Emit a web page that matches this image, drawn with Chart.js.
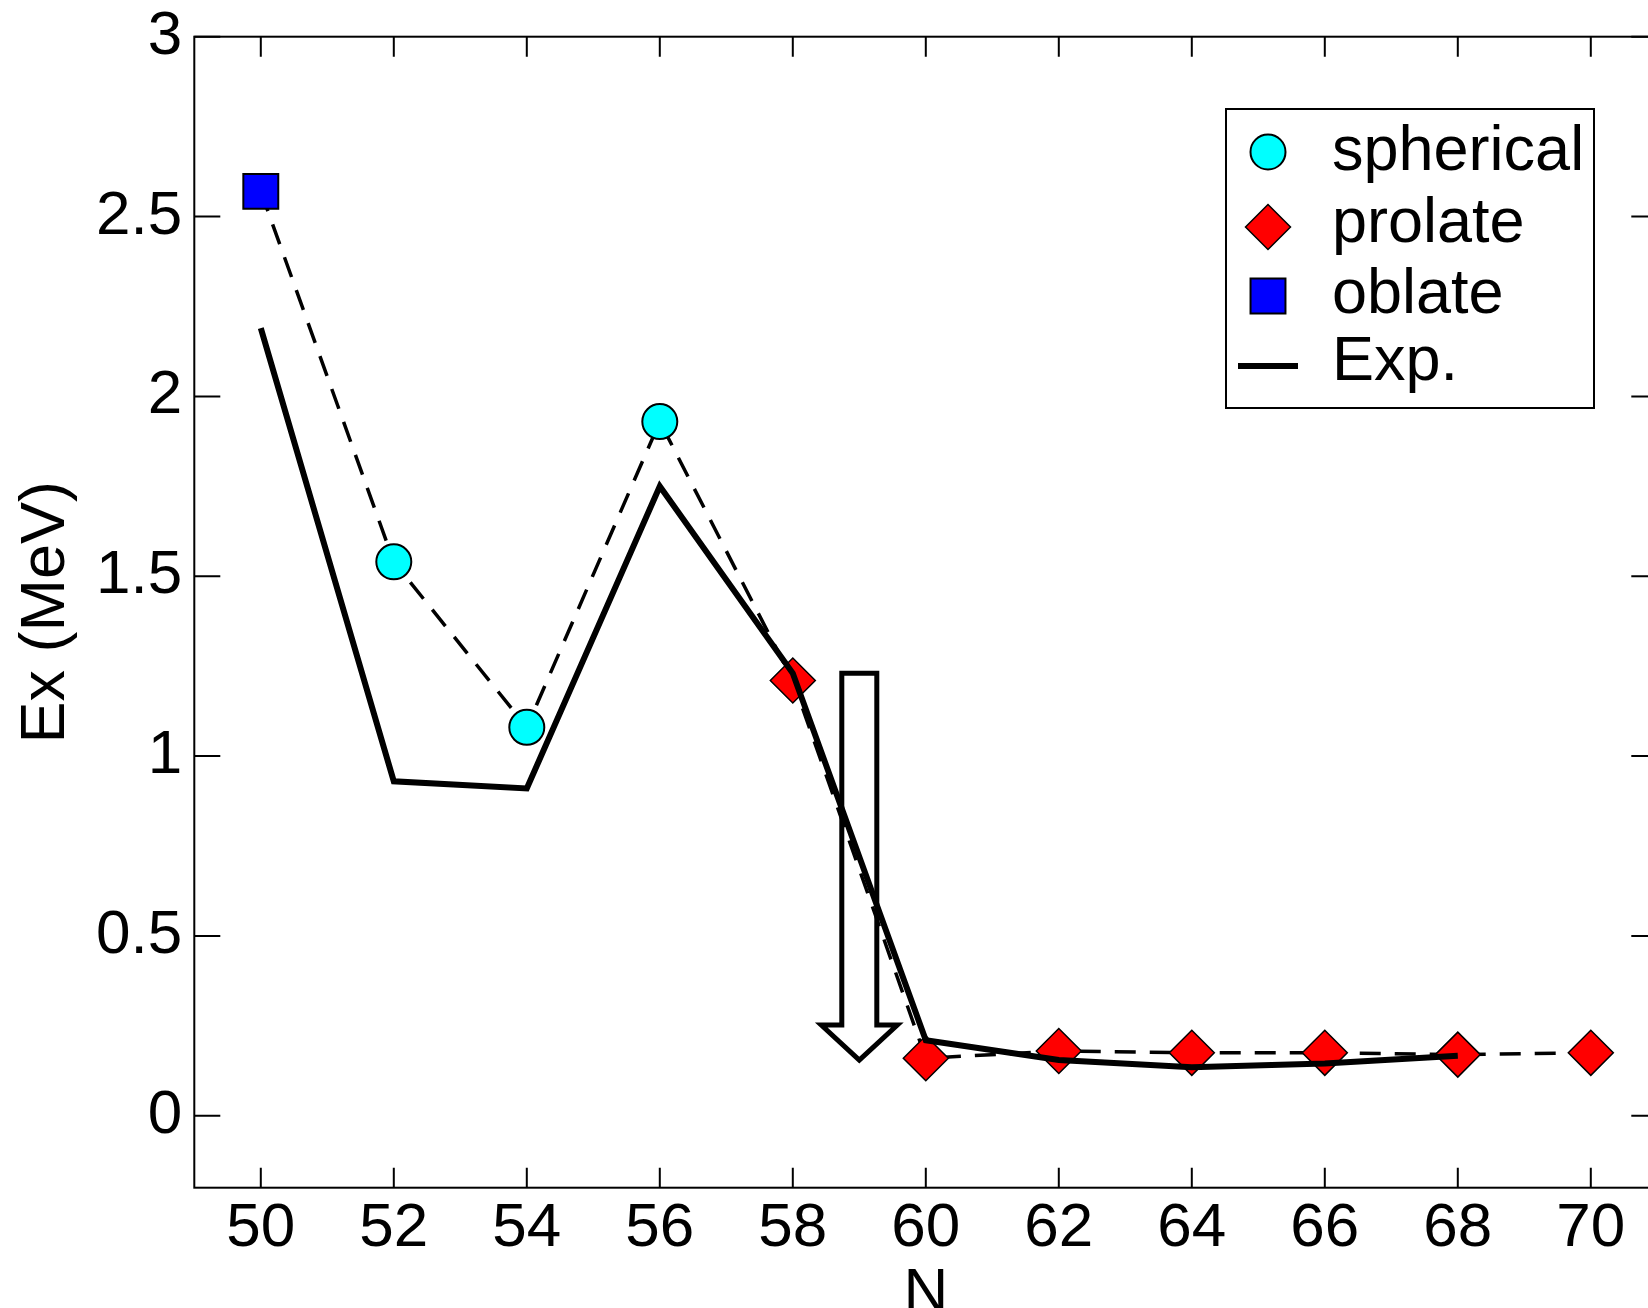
<!DOCTYPE html>
<html>
<head>
<meta charset="utf-8">
<title>Ex vs N</title>
<script src="https://cdn.jsdelivr.net/npm/chart.js@4.4.0/dist/chart.umd.min.js"></script>
<style>
    html, body { margin: 0; padding: 0; background: #fff; overflow: hidden; }
    #wrap { width: 1648px; height: 1308px; overflow: hidden; }
    canvas { display: block; }
</style>
</head>
<body>
<div id="wrap"><canvas id="ex-chart" width="1700" height="1308"></canvas></div>
<script>
// shape-model energies, one array per deformation
const sphericalN = [52, 54, 56];
const sphericalEx = [1.54, 1.08, 1.93];
const prolateN = [58, 60, 62, 64, 66, 68, 70];
const prolateEx = [1.21, 0.16, 0.18, 0.175, 0.175, 0.17, 0.175];
const oblateN = [50];
const oblateEx = [2.57];

// experimental values
const expN = [50, 52, 54, 56, 58, 60, 62, 64, 66, 68];
const expEx = [2.19, 0.93, 0.91, 1.75, 1.23, 0.21, 0.155, 0.135, 0.145, 0.167];

const xTicks = [50, 52, 54, 56, 58, 60, 62, 64, 66, 68, 70];
const yTicks = [0, 0.5, 1, 1.5, 2, 2.5, 3];

// arrow marking the transition
const arrowN = 59;
const arrowFrom = 1.23;
const arrowTo = 0.155;

const FONT = "'Liberation Sans', Arial, Helvetica, sans-serif";

function toPoints(xs, ys) {
    return xs.map((x, i) => ({ x: x, y: ys[i] }));
}

// dashed theory line runs through every model point, sorted by N
const theoryPoints = toPoints(sphericalN, sphericalEx)
    .concat(toPoints(prolateN, prolateEx), toPoints(oblateN, oblateEx))
    .sort((a, b) => a.x - b.x);

const framePlugin = {
    id: 'frame',
    beforeDatasetsDraw(chart) {
        const { ctx, chartArea: a, scales: { x, y } } = chart;
        ctx.save();
        ctx.strokeStyle = '#000';
        ctx.lineWidth = 2;
        ctx.strokeRect(a.left, a.top, a.right - a.left, a.bottom - a.top);
        ctx.beginPath();
        xTicks.forEach(v => {
            const px = x.getPixelForValue(v);
            ctx.moveTo(px, a.bottom); ctx.lineTo(px, a.bottom - 20);
            ctx.moveTo(px, a.top); ctx.lineTo(px, a.top + 20);
        });
        yTicks.forEach(v => {
            const py = y.getPixelForValue(v);
            ctx.moveTo(a.left, py); ctx.lineTo(a.left + 26, py);
            ctx.moveTo(a.right, py); ctx.lineTo(a.right - 26, py);
        });
        ctx.stroke();

        // hollow arrow
        const cx = x.getPixelForValue(arrowN);
        const top = y.getPixelForValue(arrowFrom);
        const tip = y.getPixelForValue(arrowTo);
        const base = tip - 35;
        ctx.lineWidth = 5;
        ctx.lineJoin = 'miter';
        ctx.beginPath();
        ctx.moveTo(cx - 17.5, top);
        ctx.lineTo(cx + 17.5, top);
        ctx.lineTo(cx + 17.5, base);
        ctx.lineTo(cx + 38, base);
        ctx.lineTo(cx, tip);
        ctx.lineTo(cx - 38, base);
        ctx.lineTo(cx - 17.5, base);
        ctx.closePath();
        ctx.stroke();
        ctx.restore();
    }
};

const legendPlugin = {
    id: 'boxLegend',
    afterDraw(chart) {
        const ctx = chart.ctx;
        const box = { left: 1226, top: 109, right: 1594, bottom: 408 };
        ctx.save();
        ctx.fillStyle = '#fff';
        ctx.fillRect(box.left, box.top, box.right - box.left, box.bottom - box.top);
        ctx.strokeStyle = '#000';
        ctx.lineWidth = 2;
        ctx.strokeRect(box.left, box.top, box.right - box.left, box.bottom - box.top);

        const order = ['spherical', 'prolate', 'oblate', 'Exp.'];
        const rows = [152, 227, 296, 366];
        const baselines = [170, 242, 313, 380];
        ctx.font = '63px ' + FONT;
        ctx.textAlign = 'left';
        ctx.textBaseline = 'alphabetic';
        order.forEach((label, i) => {
            const ds = chart.data.datasets.find(d => d.label === label);
            const rowY = rows[i];
            const symX = 1268;
            if (ds.pointRadius > 0) {
                ctx.fillStyle = ds.backgroundColor;
                ctx.strokeStyle = ds.borderColor;
                ctx.lineWidth = ds.pointBorderWidth;
                Chart.helpers.drawPoint(ctx, {
                    pointStyle: ds.pointStyle,
                    radius: ds.pointRadius,
                    rotation: 0,
                    borderWidth: ds.pointBorderWidth
                }, symX, rowY);
            } else {
                ctx.strokeStyle = ds.borderColor;
                ctx.lineWidth = ds.borderWidth;
                ctx.beginPath();
                ctx.moveTo(1238, rowY);
                ctx.lineTo(1298, rowY);
                ctx.stroke();
            }
            ctx.fillStyle = '#000';
            ctx.fillText(label, 1332, baselines[i]);
        });
        ctx.restore();
    }
};

const ctx = document.getElementById('ex-chart').getContext('2d');
const exChart = new Chart(ctx, {
    type: 'scatter',
    data: {
        datasets: [
            {
                label: 'Exp.',
                data: toPoints(expN, expEx),
                showLine: true,
                borderColor: '#000',
                backgroundColor: '#000',
                borderWidth: 6,
                borderJoinStyle: 'miter',
                pointRadius: 0,
                order: 0
            },
            {
                label: 'spherical',
                data: toPoints(sphericalN, sphericalEx),
                pointStyle: 'circle',
                pointRadius: 17.5,
                backgroundColor: '#00ffff',
                borderColor: '#000',
                pointBorderWidth: 2,
                order: 1
            },
            {
                label: 'prolate',
                data: toPoints(prolateN, prolateEx),
                pointStyle: 'rectRot',
                pointRadius: 22.5,
                backgroundColor: '#ff0000',
                borderColor: '#000',
                pointBorderWidth: 1.5,
                order: 1
            },
            {
                label: 'oblate',
                data: toPoints(oblateN, oblateEx),
                pointStyle: 'rect',
                pointRadius: 24.7,
                backgroundColor: '#0000ff',
                borderColor: '#000',
                pointBorderWidth: 2,
                order: 1
            },
            {
                label: 'theory',
                data: theoryPoints,
                showLine: true,
                borderColor: '#000',
                borderWidth: 3.5,
                borderDash: [21, 14],
                pointRadius: 0,
                order: 2
            }
        ]
    },
    options: {
        responsive: false,
        animation: false,
        devicePixelRatio: 1,
        layout: {
            padding: { left: 0, top: 36.7, right: 42.7, bottom: 0 }
        },
        plugins: {
            legend: { display: false },
            tooltip: { enabled: false }
        },
        scales: {
            x: {
                type: 'linear',
                min: 49,
                max: 71,
                grid: { display: false, drawTicks: false },
                border: { display: false },
                afterBuildTicks: s => { s.ticks = xTicks.map(v => ({ value: v })); },
                afterFit: s => {
                    s.height = 120.3;
                    s.paddingLeft = 0;
                    s.paddingRight = 0;
                },
                ticks: {
                    autoSkip: false,
                    maxRotation: 0,
                    padding: 4,
                    color: '#000',
                    font: { family: FONT, size: 62 },
                    callback: v => String(v)
                },
                title: {
                    display: true,
                    text: 'N',
                    color: '#000',
                    padding: 0,
                    font: { family: FONT, size: 62, lineHeight: 0.45 }
                }
            },
            y: {
                type: 'linear',
                min: -0.2,
                max: 3,
                grid: { display: false, drawTicks: false },
                border: { display: false },
                afterBuildTicks: s => { s.ticks = yTicks.map(v => ({ value: v })); },
                afterFit: s => {
                    s.width = 194.3;
                    s.paddingTop = 0;
                    s.paddingBottom = 0;
                },
                ticks: {
                    padding: 12,
                    color: '#000',
                    font: { family: FONT, size: 62 },
                    callback: v => String(v)
                },
                title: {
                    display: true,
                    text: 'Ex (MeV)',
                    color: '#000',
                    padding: { top: 9, bottom: 0 },
                    font: { family: FONT, size: 63, lineHeight: 1.2 }
                }
            }
        }
    },
    plugins: [framePlugin, legendPlugin]
});
</script>
</body>
</html>
